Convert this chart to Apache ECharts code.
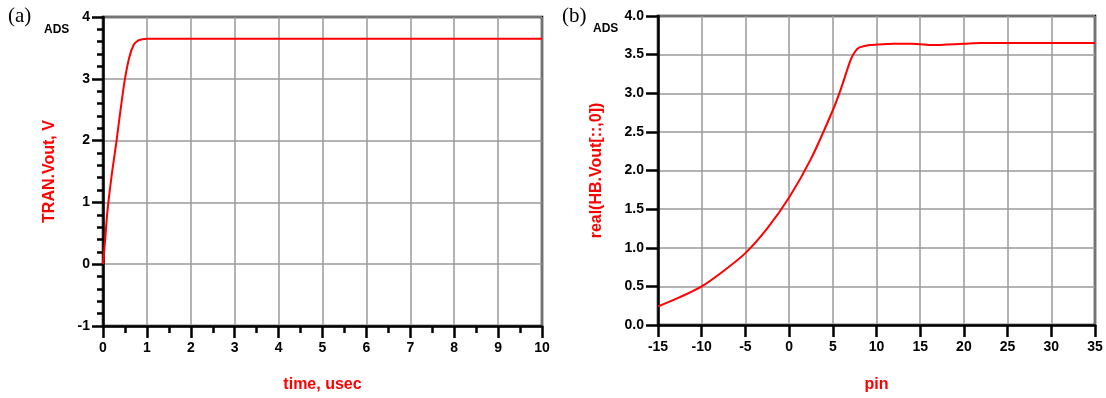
<!DOCTYPE html>
<html>
<head>
<meta charset="utf-8">
<script src="https://cdn.jsdelivr.net/npm/echarts@6/dist/echarts.min.js"></script>
<style>
  html, body { margin: 0; padding: 0; background: #fff; }
  #chart { width: 1106px; height: 398px; }
</style>
</head>
<body>
<div id="chart"></div>
<script>
// (a) transient output
const timeUs = [0, 0.05, 0.1, 0.2, 0.3, 0.4, 0.5, 0.6, 0.7, 0.8, 0.9, 1.0, 1.2, 2, 4, 6, 8, 10];
const tranVout = [0, 0.4, 0.85, 1.45, 1.95, 2.5, 3.0, 3.35, 3.55, 3.62, 3.64, 3.65, 3.65, 3.65, 3.65, 3.65, 3.65, 3.65];

// (b) harmonic balance output vs pin
const pin = [-15, -12.5, -10, -7.5, -5, -2.5, 0, 2.5, 5, 6, 7, 7.5, 8, 9, 10, 12, 14, 15, 16, 17, 18, 20, 22, 25, 30, 35];
const hbVout = [0.24, 0.36, 0.5, 0.7, 0.93, 1.25, 1.65, 2.15, 2.78, 3.08, 3.42, 3.53, 3.59, 3.62, 3.63, 3.64, 3.64, 3.635, 3.625, 3.625, 3.63, 3.64, 3.65, 3.65, 3.65, 3.65];

const leftTicksY = [-1, 0, 1, 2, 3, 4];
const rightTicksY = [0, 0.5, 1, 1.5, 2, 2.5, 3, 3.5, 4];

const chart = echarts.init(document.getElementById('chart'));

const font = 'Liberation Sans, Arial, sans-serif';
const tickLabel = { color: '#000', fontWeight: 'bold', fontSize: 14, fontFamily: font };
const axisName = { color: '#ff0000', fontWeight: 'bold', fontSize: 16, fontFamily: font };
const axisLine = { show: true, onZero: false, lineStyle: { color: '#000', width: 2.5 } };
const splitLine = { show: true, lineStyle: { color: '#9a9a9a', width: 1.5 } };

function pairs(xs, ys) {
  return xs.map(function(x, i) { return [x, ys[i]]; });
}

const option = {
  animation: false,
  backgroundColor: '#fff',
  grid: [
    { left: 103, top: 17, width: 439, height: 310, show: true, borderColor: '#000', borderWidth: 2.5, backgroundColor: 'transparent' },
    { left: 658, top: 16, width: 437, height: 312, show: true, borderColor: '#000', borderWidth: 2.5, backgroundColor: 'transparent' }
  ],
  graphic: [
    { type: 'text', left: 8, top: 6, style: { text: '(a)', font: '21px "Liberation Serif", "Times New Roman", serif', fill: '#000' } },
    { type: 'text', left: 44, top: 24, style: { text: 'ADS', font: 'bold 12px "Liberation Sans", Arial, sans-serif', fill: '#000' } },
    { type: 'text', left: 562, top: 6, style: { text: '(b)', font: '21px "Liberation Serif", "Times New Roman", serif', fill: '#000' } },
    { type: 'text', left: 593, top: 23, style: { text: 'ADS', font: 'bold 12px "Liberation Sans", Arial, sans-serif', fill: '#000' } }
  ],
  xAxis: [
    {
      gridIndex: 0, type: 'value', min: 0, max: 10, interval: 1,
      name: 'time, usec', nameLocation: 'middle', nameGap: 51, nameTextStyle: axisName,
      axisLine: axisLine,
      axisTick: { show: true, length: 12, lineStyle: { color: '#000', width: 2.5 } },
      minorTick: { show: true, splitNumber: 2, length: 7, lineStyle: { color: '#000', width: 2.5 } },
      axisLabel: Object.assign({ margin: 15 }, tickLabel),
      splitLine: splitLine
    },
    {
      gridIndex: 1, type: 'value', min: -15, max: 35, interval: 5,
      name: 'pin', nameLocation: 'middle', nameGap: 52, nameTextStyle: axisName,
      axisLine: axisLine,
      axisTick: { show: true, length: 12, lineStyle: { color: '#000', width: 2.5 } },
      axisLabel: Object.assign({ margin: 15 }, tickLabel),
      splitLine: splitLine
    }
  ],
  yAxis: [
    {
      gridIndex: 0, type: 'value', min: leftTicksY[0], max: leftTicksY[leftTicksY.length - 1], interval: 1,
      name: 'TRAN.Vout, V', nameLocation: 'middle', nameGap: 45, nameTextStyle: axisName,
      axisLine: axisLine,
      axisTick: { show: true, length: 11, lineStyle: { color: '#000', width: 2.5 } },
      minorTick: { show: true, splitNumber: 5, length: 6, lineStyle: { color: '#000', width: 2.5 } },
      axisLabel: Object.assign({ margin: 13 }, tickLabel),
      splitLine: splitLine
    },
    {
      gridIndex: 1, type: 'value', min: rightTicksY[0], max: rightTicksY[rightTicksY.length - 1], interval: 0.5,
      name: 'real(HB.Vout[::,0])', nameLocation: 'middle', nameGap: 53, nameTextStyle: axisName,
      axisLine: axisLine,
      axisTick: { show: true, length: 12, lineStyle: { color: '#000', width: 2.5 } },
      axisLabel: Object.assign({ margin: 14, formatter: function(v) { return v.toFixed(1); } }, tickLabel),
      splitLine: splitLine
    }
  ],
  series: [
    {
      type: 'line', xAxisIndex: 0, yAxisIndex: 0,
      data: pairs(timeUs, tranVout),
      smooth: 0.3, symbol: 'none',
      lineStyle: { color: '#ff0000', width: 2 }
    },
    {
      type: 'line', xAxisIndex: 1, yAxisIndex: 1,
      data: pairs(pin, hbVout),
      smooth: 0.3, symbol: 'none',
      lineStyle: { color: '#ff0000', width: 2 }
    }
  ]
};

chart.setOption(option);
</script>
</body>
</html>
